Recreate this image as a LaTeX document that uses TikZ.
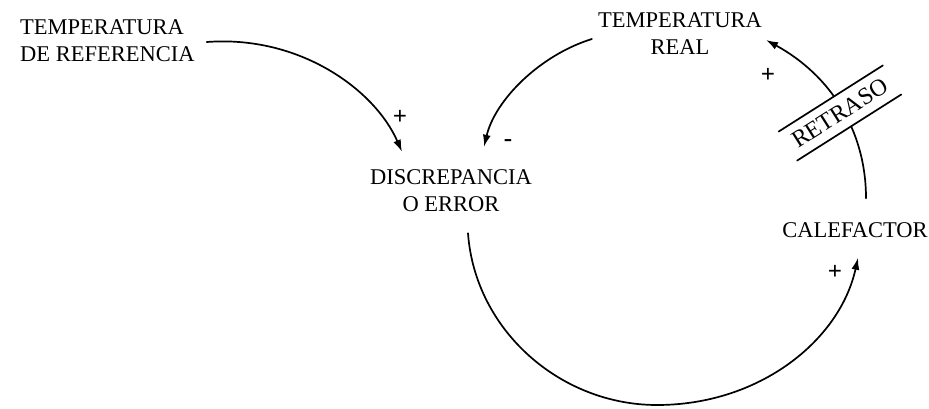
\documentclass[tikz,border=0pt]{standalone}
\usepackage{fontspec}
\setmainfont{Liberation Serif}
\usetikzlibrary{arrows.meta}

\begin{document}
\begin{tikzpicture}[
  x=1pt,
  y=-1pt,
  line join=round,
  line cap=round,
  every node/.style={font=\fontsize{22.5}{27}\selectfont,inner sep=0pt},
  concept/.style={align=center},
  link/.style={draw=black,line width=1.7pt,-{Latex[length=12pt,width=8pt]}},
  sign/.style={font=\fontsize{25}{25}\selectfont\bfseries},
  delaybox/.style={fill=white,font=\fontsize{24}{24}\selectfont,
    minimum width=123pt,minimum height=34pt,rotate=32.4}
]
  \useasboundingbox (0,0) rectangle (929,408);

  % Variables of the loop.
  \node[concept,align=left,anchor=west] (reftemp) at (20,41) {TEMPERATURA\\DE REFERENCIA};
  \node[concept] (realtemp) at (680,34) {TEMPERATURA\\REAL};
  \node[concept] (error) at (451,191) {DISCREPANCIA\\O ERROR};
  \node[concept] (heater) at (855,230) {CALEFACTOR};

  % Causal links, anchored on the variables.
  \draw[link] ([xshift=12pt,yshift=-1pt]reftemp.east)
    .. controls (300,35) and (375,90) .. ([xshift=32pt,yshift=18pt]error.north west);
  \draw[link] ([xshift=-6pt,yshift=-5pt]realtemp.west)
    .. controls (540,55) and (495,100) .. ([xshift=-48pt,yshift=23pt]error.north east);
  \draw[link] ([xshift=17pt,yshift=-21pt]error.south)
    .. controls (475,330) and (560,405) .. (657,405)
    .. controls (760,405) and (840,340) .. ([xshift=3pt,yshift=-20pt]heater.south);
  \draw[link] ([xshift=11pt,yshift=24pt]heater.north)
    .. controls (866,130) and (830,75) .. ([xshift=4pt,yshift=-6pt]realtemp.east);

  % Delay mark across the heater link.
  \node[delaybox] (delay) at (840,113) {RETRASO};
  \draw[line width=1.7pt] (delay.north west) -- (delay.north east);
  \draw[line width=1.7pt] (delay.south west) -- (delay.south east);

  % Link polarities.
  \node[sign] (plusref) at (400,117) {+};
  \node[sign] (minusreal) at (508,143) {-};
  \node[sign] (plusheat) at (768,75) {+};
  \node[sign] (pluserror) at (835,272) {+};
\end{tikzpicture}
\end{document}
